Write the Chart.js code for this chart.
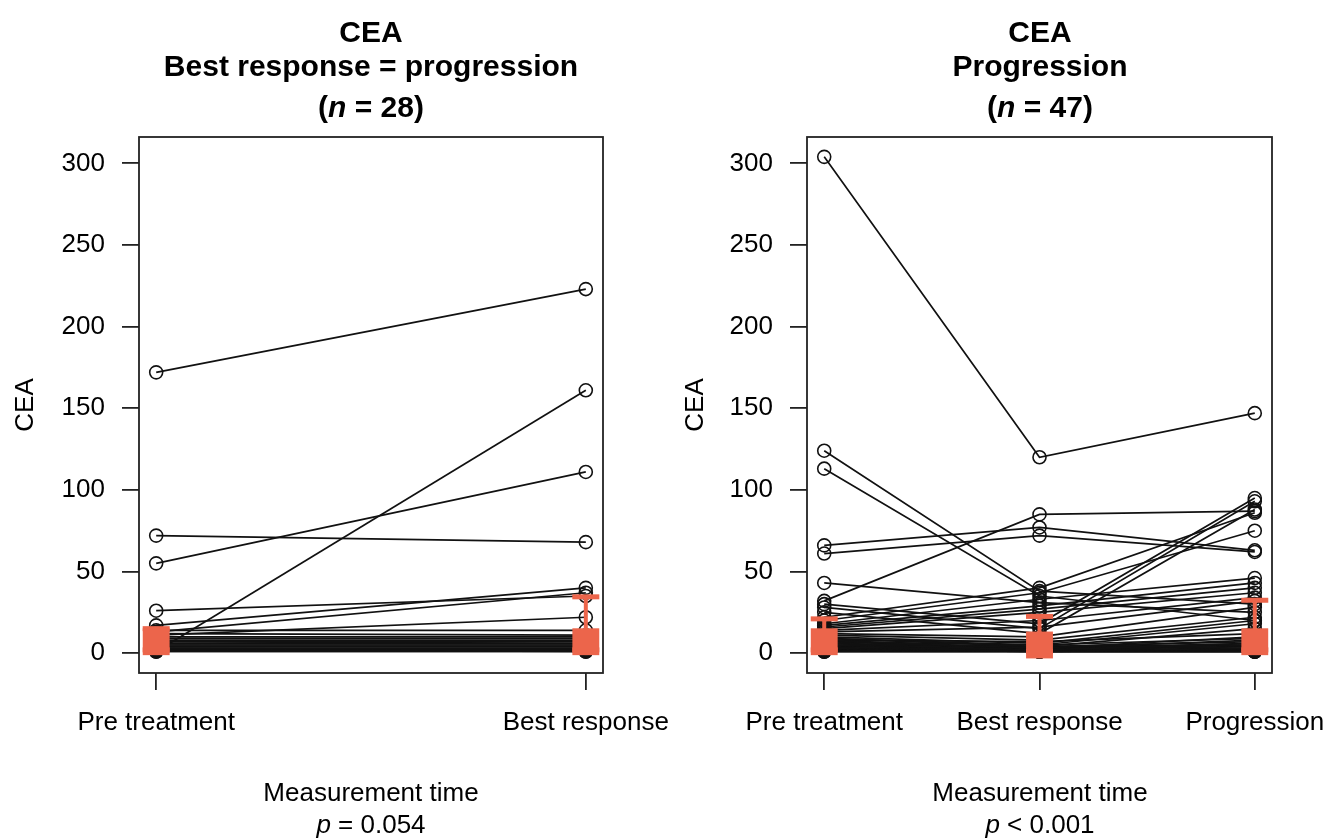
<!DOCTYPE html>
<html><head><meta charset="utf-8">
<script src="https://cdn.jsdelivr.net/npm/chart.js@4.4.1/dist/chart.umd.min.js"></script>
<style>
html,body{margin:0;padding:0;background:#fff;}
body{width:1339px;height:839px;position:relative;overflow:hidden;font-family:"Liberation Sans",Arial,sans-serif;}
canvas{position:absolute;left:0;top:0;}
.t{position:absolute;white-space:nowrap;transform:translateX(-50%);color:#000;}
.title{font-weight:bold;font-size:30px;line-height:30px;}
.lab{font-size:26px;line-height:26px;}
</style></head><body>
<canvas id="c1" width="1339" height="839"></canvas>
<canvas id="c2" width="1339" height="839"></canvas>

<div class="t title" style="left:371px;top:17px;">CEA</div>
<div class="t title" style="left:371px;top:51px;">Best response = progression</div>
<div class="t title" style="left:371px;top:92px;">(<i>n</i> = 28)</div>
<div class="t title" style="left:1040px;top:17px;">CEA</div>
<div class="t title" style="left:1040px;top:51px;">Progression</div>
<div class="t title" style="left:1040px;top:92px;">(<i>n</i> = 47)</div>

<div class="t lab" style="left:371px;top:779px;">Measurement time</div>
<div class="t lab" style="left:371px;top:811px;"><i>p</i> = 0.054</div>
<div class="t lab" style="left:1040px;top:779px;">Measurement time</div>
<div class="t lab" style="left:1040px;top:811px;"><i>p</i> &lt; 0.001</div>

<script>
// ---------- data ----------
const leftCategories = ["Pre treatment", "Best response"];
const rightCategories = ["Pre treatment", "Best response", "Progression"];
const yTicks = [0, 50, 100, 150, 200, 250, 300];

// Left panel: best response = progression (n = 28)
const leftPre  = [172, 72, 55, 1, 26, 17, 13, 11, 14, 12, 10, 9, 8, 7, 6, 6, 5, 5, 4, 4, 3, 3, 3, 2, 2, 2, 1, 1];
const leftBest = [223, 68, 111, 161, 35, 40, 37, 22, 14, 11, 10, 9, 8, 7, 7, 6, 5, 5, 4, 4, 3, 3, 2, 2, 2, 1, 1, 1];

// Right panel: progression (n = 47)
const rightPre  = [304, 124, 113, 66, 61, 32, 43, 30, 28, 25, 22, 20, 18, 17, 16, 15, 14, 13, 12, 11, 10, 9, 9, 8, 8, 7, 7, 6, 6, 5, 5, 5, 4, 4, 4, 3, 3, 3, 3, 2, 2, 2, 2, 1, 1, 1, 1];
const rightBest = [120, 38, 35, 77, 72, 85, 31, 18, 15, 12, 40, 37, 33, 29, 27, 25, 20, 16, 10, 8, 6, 5, 4, 7, 3, 5, 3, 4, 2, 3, 2, 4, 2, 3, 1, 2, 1, 2, 1, 1, 2, 1, 1, 1, 1, 1, 1];
const rightProg = [147, 30, 20, 63, 62, 87, 25, 95, 93, 88, 86, 75, 46, 43, 40, 37, 34, 32, 28, 22, 20, 18, 15, 12, 10, 9, 8, 7, 6, 6, 5, 5, 4, 4, 3, 3, 3, 2, 2, 2, 2, 1, 1, 1, 1, 1, 1];

// Summary markers (median square with upper error bar)
const leftMedian  = [7, 7];
const leftLower   = [2, 2];
const leftUpper   = [15, 34.5];
const rightMedian = [7, 5, 7];
const rightLower  = [2, 1, 2];
const rightUpper  = [21, 22.5, 32.4];

// ---------- chart ----------
const FONT = '"Liberation Sans", Arial, sans-serif';
const ORANGE = '#EC654B';
Chart.defaults.font.family = FONT;

const boxPlugin = {
  id: 'box',
  afterDraw(chart) {
    const {ctx, chartArea: a} = chart;
    ctx.save();
    ctx.strokeStyle = '#222';
    ctx.lineWidth = 1.8;
    ctx.strokeRect(a.left, a.top, a.right - a.left, a.bottom - a.top);
    ctx.restore();
  }
};

function buildDatasets(seriesList, med, low, up) {
  const ds = [];
  const n = seriesList[0].length;
  for (let i = 0; i < n; i++) {
    ds.push({
      data: seriesList.map((s, k) => ({x: k + 1, y: s[i]})),
      borderColor: '#111', borderWidth: 1.7,
      pointRadius: 6.5, pointBorderWidth: 1.6, pointBorderColor: '#111',
      pointBackgroundColor: 'rgba(0,0,0,0)', pointStyle: 'circle',
      tension: 0, fill: false, order: 2
    });
  }
  med.forEach((m, k) => {
    ds.push({
      data: [{x: k + 1, y: low[k]}, {x: k + 1, y: up[k]}],
      borderColor: ORANGE, borderWidth: 4,
      pointStyle: 'line', pointRadius: 13.5, pointBorderWidth: 5,
      pointBorderColor: ORANGE, pointBackgroundColor: ORANGE,
      fill: false, order: 1
    });
  });
  ds.push({
    data: med.map((m, k) => ({x: k + 1, y: m})),
    showLine: false, pointStyle: 'rect', pointRadius: 19,
    pointBackgroundColor: ORANGE, pointBorderColor: ORANGE, pointBorderWidth: 0,
    order: 0
  });
  return ds;
}

function makeChart(id, cats, seriesList, med, low, up, xmin, xmax, padL, padR, yW) {
  return new Chart(document.getElementById(id), {
    type: 'line',
    data: {datasets: buildDatasets(seriesList, med, low, up)},
    options: {
      responsive: false, animation: false, devicePixelRatio: 1,
      layout: {padding: {left: padL, right: padR, top: 137, bottom: 0}},
      plugins: {legend: {display: false}, tooltip: {enabled: false}, title: {display: false}},
      events: [],
      scales: {
        x: {
          type: 'linear', min: xmin, max: xmax,
          afterBuildTicks: ax => { ax.ticks = cats.map((c, i) => ({value: i + 1})); },
          afterFit: ax => { ax.height = 166; ax.paddingLeft = 0; ax.paddingRight = 0; },
          ticks: {
            callback: v => cats[Math.round(v) - 1] ?? '',
            color: '#000', font: {size: 26}, padding: 17, maxRotation: 0, autoSkip: false
          },
          grid: {drawOnChartArea: false, drawTicks: true, tickLength: 17, color: '#222', lineWidth: 1.8},
          border: {display: false}
        },
        y: {
          type: 'linear', min: -12.16, max: 316.16,
          afterBuildTicks: ax => { ax.ticks = yTicks.map(v => ({value: v})); },
          afterFit: ax => { ax.width = yW; ax.paddingTop = 0; ax.paddingBottom = 0; },
          ticks: {callback: v => String(v), color: '#000', font: {size: 26}, padding: 17},
          grid: {drawOnChartArea: false, drawTicks: true, tickLength: 17, color: '#222', lineWidth: 1.8},
          border: {display: false},
          title: {display: true, text: 'CEA', color: '#000', font: {size: 26}, padding: {top: 10, bottom: 0}}
        }
      }
    },
    plugins: [boxPlugin]
  });
}

makeChart('c1', leftCategories, [leftPre, leftBest], leftMedian, leftLower, leftUpper, 0.96, 2.04, 0, 736, 139);
makeChart('c2', rightCategories, [rightPre, rightBest, rightProg], rightMedian, rightLower, rightUpper, 0.92, 3.08, 670, 67, 137);
</script>
</body></html>
